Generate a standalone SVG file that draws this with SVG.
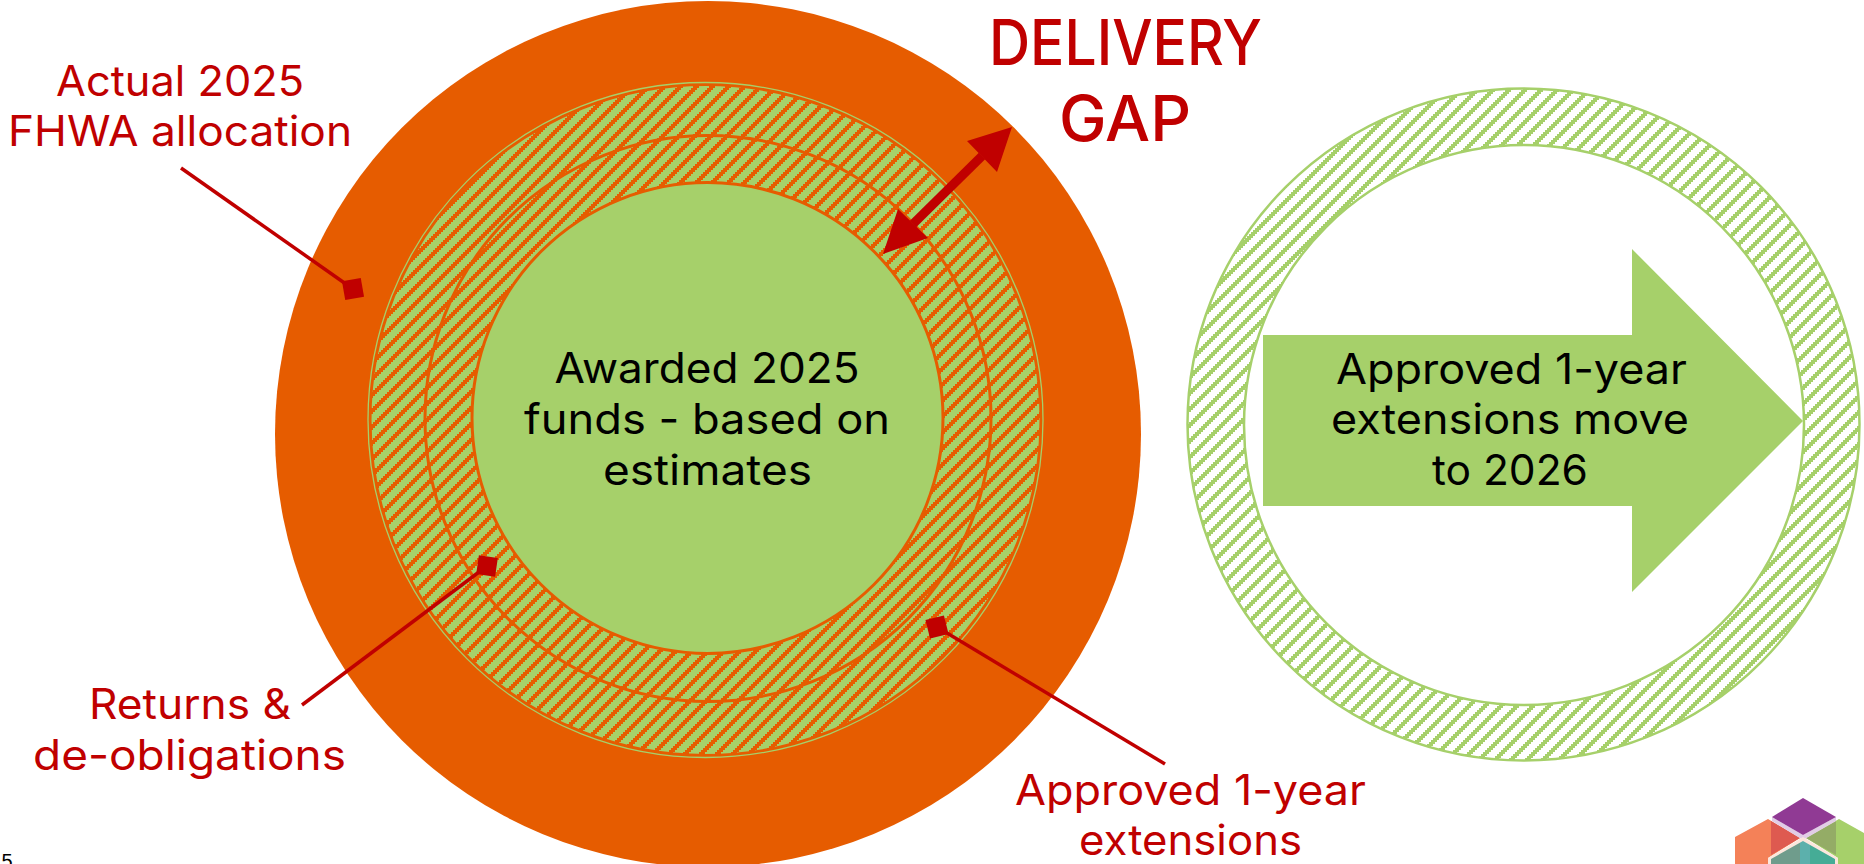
<svg xmlns="http://www.w3.org/2000/svg" width="1864" height="864" viewBox="0 0 1864 864">
<style>
text{font-family:Inter,"Open Sans","Liberation Sans",sans-serif;text-anchor:middle}
.b{font-size:42px;fill:#000}
.r{font-size:42px;fill:#C00000}
.t{font-size:63px;font-weight:500;fill:#C00000}
.l{fill:none;stroke:#C00000;stroke-width:3.5;marker-end:url(#dia)}
</style>
<defs>
<path id="st" d="M14 0h2v2h-2zM0 0h4v2h-4zM12 2h4v2h-4zM0 2h2v2h-2zM10 4h6v2h-6zM8 6h6v2h-6zM6 8h6v2h-6zM4 10h6v2h-6zM2 12h6v2h-6zM0 14h6v2h-6z"/>
<pattern id="ho" width="16" height="16" patternUnits="userSpaceOnUse" patternTransform="translate(13 0)"><rect width="16" height="16" fill="#A6D06A"/><use href="#st" fill="#E65C00"/></pattern>
<pattern id="hg" width="16" height="16" patternUnits="userSpaceOnUse" patternTransform="translate(13 0)"><rect width="16" height="16" fill="#fff"/><use href="#st" fill="#A6D06A"/></pattern>
<marker id="dia" markerUnits="userSpaceOnUse" markerWidth="28" markerHeight="28" refX="14" refY="14" orient="auto"><path d="M0.500 14L14 0.500L27.500 14L14 27.500Z" fill="#C00000"/></marker>
</defs>
<g id="outer"><circle cx="708" cy="434" r="433" fill="#E65C00"/></g>
<g id="returns"><circle cx="705.500" cy="420" r="335" fill="url(#ho)" stroke="#E65C00" stroke-width="2"/><circle cx="705.500" cy="420" r="337.500" fill="none" stroke="#A6D06A" stroke-width="1.300"/></g>
<g id="extensions"><circle cx="708" cy="418.500" r="283" fill="none" stroke="#E65C00" stroke-width="3"/></g>
<g id="awarded"><circle cx="707.500" cy="418" r="235.500" fill="#A6D06A" stroke="#E65C00" stroke-width="3"/>
<text class="b" x="707" y="383" textLength="305" lengthAdjust="spacingAndGlyphs">Awarded 2025</text><text class="b" x="707" y="434" textLength="366" lengthAdjust="spacingAndGlyphs">funds - based on</text><text class="b" x="707.500" y="485" textLength="209" lengthAdjust="spacingAndGlyphs">estimates</text></g>
<g id="moved"><circle cx="1523.500" cy="424.500" r="336" fill="url(#hg)" stroke="#A6D06A" stroke-width="2.500"/><circle cx="1524" cy="425" r="280" fill="#fff" stroke="#A6D06A" stroke-width="2.500"/></g>
<g id="move-arrow"><path d="M1263 335H1632V249L1803 421L1632 592V506H1263Z" fill="#A6D06A"/>
<text class="b" x="1511.500" y="384" textLength="351" lengthAdjust="spacingAndGlyphs">Approved 1-year</text><text class="b" x="1510" y="434" textLength="358" lengthAdjust="spacingAndGlyphs">extensions move</text><text class="b" x="1510" y="485" textLength="156" lengthAdjust="spacingAndGlyphs">to 2026</text></g>
<g id="connectors">
<path class="l" d="M181 168L353 289"/><path class="l" d="M302 705L487 566"/><path class="l" d="M1165 764L937 627"/>
<path d="M982 156L913 224" stroke="#C00000" stroke-width="9" fill="none"/><path d="M1012 127L967 141L997 172Z M883 254L898 209L928 238Z" fill="#C00000"/>
</g>
<g id="labels">
<text class="t" x="1125.500" y="65" textLength="273" lengthAdjust="spacingAndGlyphs">DELIVERY</text><text class="t" x="1125" y="141" textLength="132" lengthAdjust="spacingAndGlyphs">GAP</text>
<text class="r" x="180" y="96" textLength="248" lengthAdjust="spacingAndGlyphs">Actual 2025</text><text class="r" x="180" y="146" textLength="344" lengthAdjust="spacingAndGlyphs">FHWA allocation</text>
<text class="r" x="190" y="719" textLength="202" lengthAdjust="spacingAndGlyphs">Returns &amp;</text><text class="r" x="189.500" y="770" textLength="313" lengthAdjust="spacingAndGlyphs">de-obligations</text>
<text class="r" x="1190.500" y="805" textLength="351" lengthAdjust="spacingAndGlyphs">Approved 1-year</text><text class="r" x="1190.500" y="855" textLength="223" lengthAdjust="spacingAndGlyphs">extensions</text>
<text x="7" y="868" style="font-family:'Liberation Sans',sans-serif;font-size:20px">5</text>
</g>
<g id="logo">
<path d="M1735 837L1768 819L1800 838L1768 858V864H1735Z" fill="#F48158"/>
<path d="M1771 821L1800 838L1771 855Z" fill="#DE5A50"/>
<path d="M1839 819L1864 833V864H1838V858L1806 838Z" fill="#A6D06A"/>
<path d="M1836 821L1806 838L1836 855Z" fill="#94AC66"/>
<path d="M1803 835L1836 817V821L1803 840L1772 821V817Z" fill="#E1CDE6"/>
<path d="M1803 798L1836 817L1803 835L1772 817Z" fill="#903A94"/>
<path d="M1803 840L1836 859V864H1770V859Z" fill="#45AC96"/>
<path d="M1803 840L1770 859V864H1800V842Z" fill="#6F9C8C"/>
<path d="M1800 842L1803 840L1810 844V864H1800Z" fill="#5CB0AC"/>
<path d="M1768 864V858L1803 837L1838 858V864H1835V859L1803 841L1771 859V864Z" fill="#FBE6DC"/>
</g>
</svg>
